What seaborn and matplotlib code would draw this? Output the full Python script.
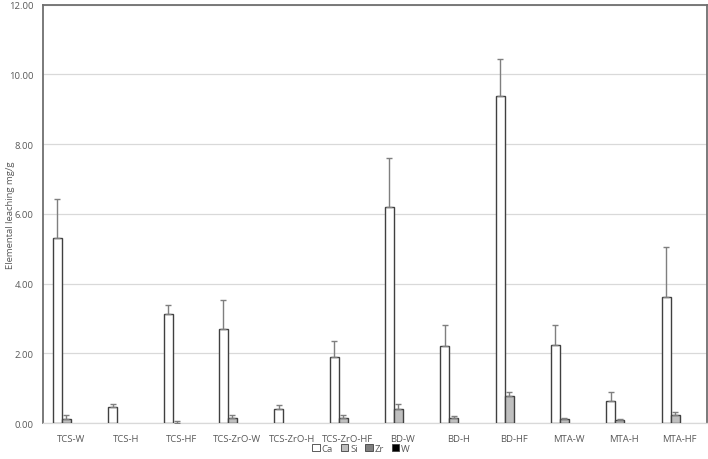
import pandas as pd
import matplotlib
matplotlib.use("Agg")
import matplotlib.pyplot as plt
import seaborn as sns
from matplotlib.patches import Patch

# -----------------------------
# Data
# -----------------------------
samples = ["TCS-W", "TCS-H", "TCS-HF", "TCS-ZrO-W", "TCS-ZrO-H", "TCS-ZrO-HF",
           "BD-W", "BD-H", "BD-HF", "MTA-W", "MTA-H", "MTA-HF"]
elements = ["Ca", "Si", "Zr", "W"]

ca_mean = [5.30, 0.46, 3.13, 2.69, 0.40, 1.89, 6.19, 2.20, 9.39, 2.25, 0.64, 3.61]
ca_sd = [1.12, 0.10, 0.26, 0.83, 0.13, 0.46, 1.42, 0.62, 1.05, 0.57, 0.24, 1.44]
si_mean = [0.11, 0.0, 0.0, 0.14, 0.0, 0.14, 0.40, 0.14, 0.79, 0.11, 0.09, 0.23]
si_sd = [0.12, 0.0, 0.07, 0.09, 0.0, 0.09, 0.16, 0.06, 0.09, 0.03, 0.02, 0.10]
zr_mean = [0.0] * 12
zr_sd = [0.0] * 12
w_mean = [0.0] * 12
w_sd = [0.0] * 12

means = {"Ca": ca_mean, "Si": si_mean, "Zr": zr_mean, "W": w_mean}
sds = {"Ca": ca_sd, "Si": si_sd, "Zr": zr_sd, "W": w_sd}
colors = {"Ca": "#ffffff", "Si": "#bfbfbf", "Zr": "#7f7f7f", "W": "#000000"}

df = pd.DataFrame({
    "Sample": [s for el in elements for s in samples],
    "Element": [el for el in elements for _ in samples],
    "Value": [v for el in elements for v in means[el]],
})

# -----------------------------
# Plot
# -----------------------------
sns.set_theme(style="white")
plt.rcParams["font.family"] = ["Open Sans", "DejaVu Sans"]
txt_color = "#595959"
fs = 6.8

fig = plt.figure(figsize=(7.08, 4.6), dpi=100)
ax = fig.add_axes([0.061, 0.078, 0.938, 0.91])

sns.barplot(data=df, x="Sample", y="Value", hue="Element", order=samples,
            hue_order=elements, palette=colors, width=0.65, errorbar=None,
            edgecolor="#404040", linewidth=1.0, legend=False, ax=ax, zorder=3)

# upper error bars only, Excel style; hide outlines of empty bars
for el, cont in zip(elements, ax.containers):
    for b, e in zip(cont, sds[el]):
        h = b.get_height()
        if h == 0:
            b.set_linewidth(0)
        if e > 0:
            x = b.get_x() + b.get_width() / 2
            ax.errorbar(x, h, yerr=[[0], [e]], fmt="none", ecolor="#7f7f7f",
                        elinewidth=1.0, capsize=2.2, capthick=1.0, zorder=4)

ax.set_xlim(-0.5, len(samples) - 0.5)
ax.set_ylim(0, 12)
ax.set_yticks(range(0, 13, 2))
ax.set_yticklabels([f"{v:.2f}" for v in range(0, 13, 2)], fontsize=fs, color=txt_color)
ax.set_xticks(range(len(samples)))
ax.set_xticklabels(samples, fontsize=fs, color=txt_color)
ax.tick_params(axis="y", length=0, pad=7)
ax.tick_params(axis="x", length=0, pad=8)
ax.set_xlabel("")
ax.set_ylabel("")
fig.text(0.008, 0.533, "Elemental leaching mg/g", rotation=90, ha="left", va="center",
         fontsize=fs, color=txt_color)
ax.yaxis.grid(True, color="#d9d9d9", linewidth=0.9, zorder=0)
ax.set_axisbelow(True)

for side in ["left", "top", "right"]:
    ax.spines[side].set_visible(True)
    ax.spines[side].set_color("#6f6f6f")
    ax.spines[side].set_linewidth(1.3)
ax.spines["bottom"].set_color("#d9d9d9")
ax.spines["bottom"].set_linewidth(0.9)

handles = [Patch(facecolor=colors[el], edgecolor="#404040", linewidth=0.6, label=el)
           for el in elements]
fig.legend(handles=handles, loc="lower center", bbox_to_anchor=(0.51, -0.005),
           ncol=4, frameon=False, fontsize=fs, handlelength=0.8, handleheight=0.8,
           handletextpad=0.2, columnspacing=0.8, labelcolor=txt_color)

fig.savefig("out.png", dpi=100)
